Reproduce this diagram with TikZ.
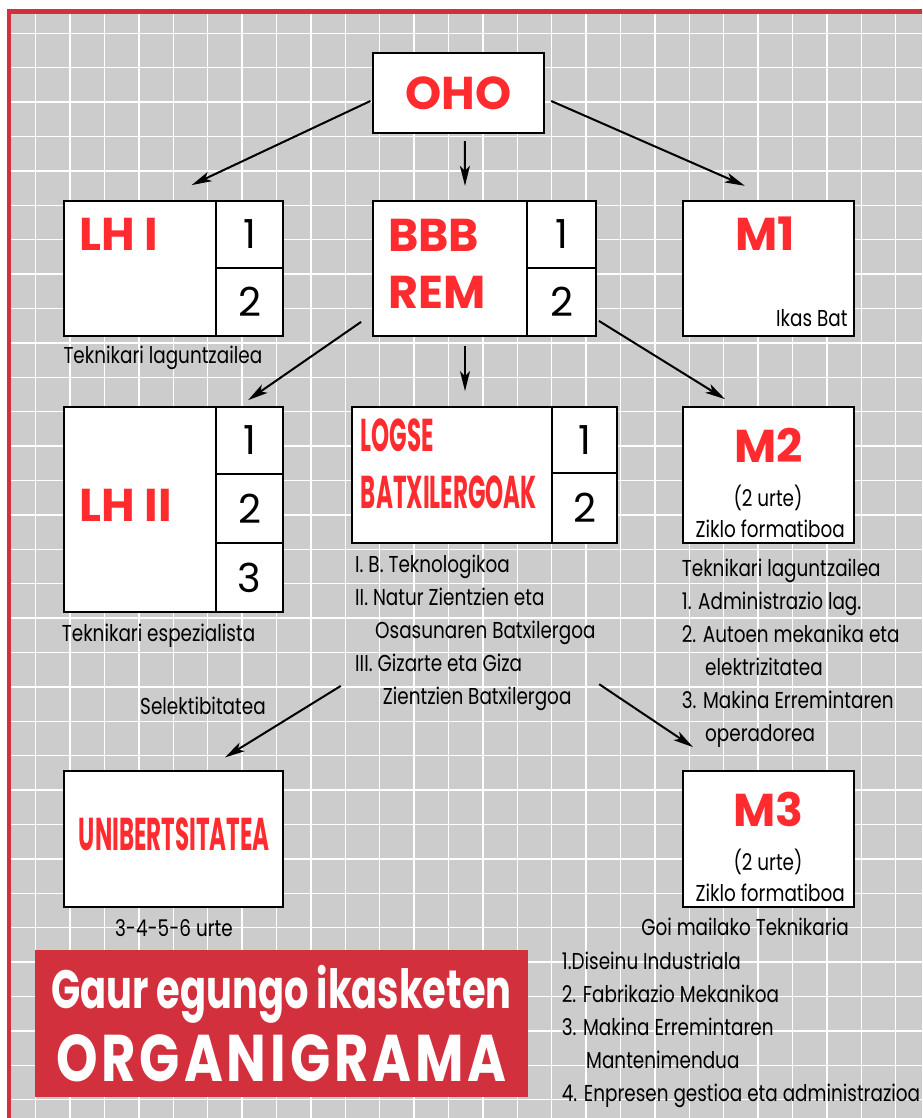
\documentclass[tikz,border=0pt]{standalone}
\usepackage{fontspec}
\usetikzlibrary{arrows.meta}

\newfontfamily\headfont{Poppins}
\newfontfamily\bodyfont[FakeStretch=0.8]{Poppins}
\newfontfamily\condfont[FakeStretch=0.5]{Poppins}
\newfontfamily\gaurfont[FakeStretch=0.71]{Poppins}
\newfontfamily\orgfont[FakeStretch=0.8,LetterSpace=6]{Poppins}

\definecolor{labelred}{HTML}{FF2B2E}
\definecolor{framered}{HTML}{D3303E}
\definecolor{gridgray}{HTML}{CCCCCC}

\begin{document}
\begin{tikzpicture}[x=1pt, y=-1pt,
    stagebox/.style={draw=black, fill=white, line width=1.8pt, inner sep=0pt},
    numbox/.style={stagebox, font=\headfont\fontsize{40}{40}\selectfont},
    redlabel/.style={inner sep=0pt, text=labelred, font=\headfont\bfseries\fontsize{46}{46}\selectfont},
    condlabel/.style={inner sep=0pt, text=labelred, font=\condfont\bfseries\fontsize{46}{46}\selectfont},
    note/.style={inner sep=0pt, align=left, font=\bodyfont\fontsize{23}{33}\selectfont},
    link/.style={-{Stealth[length=20pt, width=10pt, inset=5pt]}, line width=2pt},
    gridline/.style={white, line width=1.5pt}
  ]
  \useasboundingbox (0,0) rectangle (922,1118);

  % atzealdea: sareta eta ertz gorria
  \fill[white] (0,0) rectangle (922,1118);
  \fill[gridgray] (11,14) rectangle (922,1118);
  \foreach \i in {0,...,25}
    \draw[gridline] ({35.7+34.4*\i},14) -- ({35.7+34.4*\i},1118);
  \foreach \j in {0,...,31}
    \draw[gridline] (11,{33.3+34.4*\j}) -- (922,{33.3+34.4*\j});
  \draw[framered, line width=4.5pt] (8.9,1118) -- (8.9,11.7) -- (922,11.7);

  % OHO
  \node[stagebox, minimum width=171pt, minimum height=80.6pt, redlabel] (oho) at (458.8,93) {OHO};

  % LH I
  \node[stagebox, minimum width=219.3pt, minimum height=135.3pt] (lh1) at (173.65,268.35) {};
  \node[numbox, minimum width=67.6pt, minimum height=67.3pt] (lh1a) at (249.5,234.35) {1};
  \node[numbox, minimum width=67.6pt, minimum height=68pt] (lh1b) at (249.5,302) {2};
  \node[redlabel, anchor=west] (lh1t) at (79.3,233.9) {LH I};
  \node[note, anchor=base west] (lh1n) at (63.3,363.3) {Teknikari laguntzailea};

  % BBB REM
  \node[stagebox, minimum width=223pt, minimum height=135.3pt] (bbb) at (484.5,268.35) {};
  \node[numbox, minimum width=69pt, minimum height=67.3pt] (bbba) at (561.5,234.35) {1};
  \node[numbox, minimum width=69pt, minimum height=68pt] (bbbb) at (561.5,302) {2};
  \node[redlabel, anchor=west] (bbbt) at (388,235) {BBB};
  \node[redlabel, anchor=west] (remt) at (388,292) {REM};

  % M1
  \node[stagebox, minimum width=171pt, minimum height=135.3pt] (m1) at (768.8,268.35) {};
  \node[redlabel] (m1t) at (765,233.4) {M1};
  \node[note, anchor=base east] (m1n) at (847.7,326.7) {Ikas Bat};

  % LH II
  \node[stagebox, minimum width=219.3pt, minimum height=205pt] (lh2) at (173.65,509.2) {};
  \node[numbox, minimum width=67.6pt, minimum height=67.3pt] (lh2a) at (249.5,440.35) {1};
  \node[numbox, minimum width=67.6pt, minimum height=69.3pt] (lh2b) at (249.5,508.65) {2};
  \node[numbox, minimum width=67.6pt, minimum height=68.4pt] (lh2c) at (249.5,577.5) {3};
  \node[redlabel, anchor=west] (lh2t) at (79.3,505.5) {LH II};
  \node[note, anchor=base west] (lh2n) at (61.7,641.7) {Teknikari espezialista};

  % LOGSE (oinarria azken lerroan)
  \node[stagebox, minimum width=265pt, minimum height=136pt] (logse) at (484.2,474.7) {};
  \node[numbox, minimum width=64.4pt, minimum height=66pt] (logsea) at (584.5,439.7) {1};
  \node[numbox, minimum width=64.4pt, minimum height=70pt] (logseb) at (584.5,507.7) {2};
  \node[condlabel, anchor=west] (logset) at (360.7,435.5) {LOGSE};
  \node[condlabel, anchor=west] (batxt) at (360.7,492) {BATXILERGOAK};
  \node[note, anchor=base west] (logsen) at (355,704.5) {I. B. Teknologikoa\\
    II. Natur Zientzien eta\\
    \hspace*{20pt}Osasunaren Batxilergoa\\
    III. Gizarte eta Giza\\
    \hspace*{27.7pt}Zientzien Batxilergoa};

  % M2
  \node[stagebox, minimum width=171pt, minimum height=136.6pt] (m2) at (768.8,475) {};
  \node[redlabel] (m2t) at (768.3,445.8) {M2};
  \node[note, anchor=base] (m2u) at (768,506.7) {(2 urte)};
  \node[note, anchor=base] (m2z) at (770.3,537.3) {Ziklo formatiboa};
  \node[note, anchor=base west] (m2n) at (681.7,741.7) {Teknikari laguntzailea\\
    1. Administrazio lag.\\
    2. Autoen mekanika eta\\
    \hspace*{23.3pt}elektrizitatea\\
    3. Makina Erremintaren\\
    \hspace*{23.3pt}operadorea};

  % UNIBERTSITATEA
  \node[stagebox, minimum width=219.3pt, minimum height=136pt] (uni) at (173.65,838.7) {};
  \node[condlabel] (unit) at (174.4,834.5) {UNIBERTSITATEA};
  \node[note, anchor=base] (unin) at (173.9,936.7) {3-4-5-6 urte};
  \node[note, anchor=base west] (selek) at (140,714) {Selektibitatea};

  % M3
  \node[stagebox, minimum width=171pt, minimum height=136pt] (m3) at (768.8,838.7) {};
  \node[redlabel] (m3t) at (768.3,809.8) {M3};
  \node[note, anchor=base] (m3u) at (768,870.7) {(2 urte)};
  \node[note, anchor=base] (m3z) at (770.3,901.3) {Ziklo formatiboa};
  \node[note, anchor=base] (goi) at (745,935) {Goi mailako Teknikaria};
  \node[note, anchor=base west] (m3n) at (561.7,1101) {1.Diseinu Industriala\\
    2. Fabrikazio Mekanikoa\\
    3. Makina Erremintaren\\
    \hspace*{24.3pt}Mantenimendua\\
    4. Enpresen gestioa eta administrazioa};

  % izenburua
  \node[fill=framered, minimum width=493pt, minimum height=147pt] (title) at (281.5,1023.5) {};
  \node[inner sep=0pt, text=white, anchor=base, font=\gaurfont\bfseries\fontsize{54}{54}\selectfont] (gaur) at (281.5,1008.3) {Gaur egungo ikasketen};
  \node[inner sep=0pt, text=white, anchor=base, font=\orgfont\bfseries\fontsize{66}{66}\selectfont] (organ) at (281.5,1081.7) {ORGANIGRAMA};

  % geziak
  \draw[link] ([shift={(-2,8)}]oho.west) -- ([shift={(18,-14.7)}]lh1.north);
  \draw[link] ([shift={(6,7)}]oho.south) -- ([shift={(-19.5,-14)}]bbb.north);
  \draw[link] ([shift={(6,8)}]oho.east) -- ([shift={(-24,-14)}]m1.north);
  \draw[link] ([shift={(-11,-15)}]bbb.south west) -- ([shift={(74.5,-5.7)}]lh2.north);
  \draw[link] ([shift={(-19.5,9)}]bbb.south) -- ([shift={(-19.2,-14.7)}]logse.north);
  \draw[link] ([shift={(2,-16)}]bbb.south east) -- ([shift={(-43.8,-6.7)}]m2.north);
  \draw[link] ([shift={(-10,142.3)}]logse.south west) -- ([shift={(51.4,-12.4)}]uni.north);
  \draw[link] ([shift={(-18.4,140.6)}]logse.south east) -- ([shift={(-75.8,-22.7)}]m3.north);

\end{tikzpicture}
\end{document}
